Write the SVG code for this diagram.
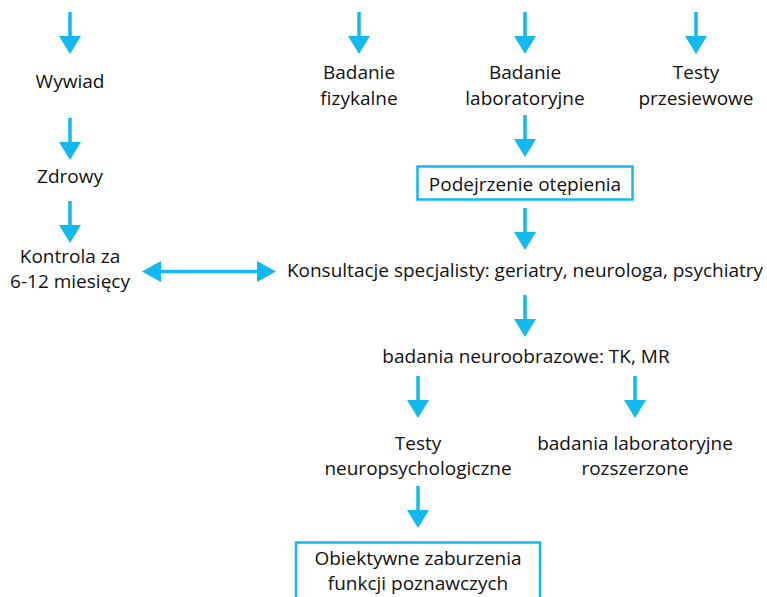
<svg xmlns="http://www.w3.org/2000/svg" width="767" height="597" viewBox="0 0 767 597">
<defs>
<style>
text{font-family:"Open Sans","Liberation Sans",sans-serif;font-size:19px;fill:#111;text-anchor:middle}
.c line{stroke:#12b8ee;stroke-width:3.5}
.c polygon{fill:#12b8ee}
.box{fill:#fff;stroke:#12b8ee;stroke-width:2.5}
</style>
</defs>
<rect width="767" height="597" fill="#fff"/>
<g class="c" id="connectors">
<line x1="70" y1="12" x2="70" y2="37"/><polygon points="59,36 81,36 70,54"/>
<line x1="70" y1="118" x2="70" y2="143"/><polygon points="59,142 81,142 70,160"/>
<line x1="70" y1="201" x2="70" y2="226"/><polygon points="59,225 81,225 70,243"/>
<line x1="359" y1="12" x2="359" y2="37"/><polygon points="348,36 370,36 359,54"/>
<line x1="525" y1="12" x2="525" y2="37"/><polygon points="514,36 536,36 525,54"/>
<line x1="696" y1="12" x2="696" y2="37"/><polygon points="685,36 707,36 696,54"/>
<line x1="525" y1="115" x2="525" y2="140"/><polygon points="514,139 536,139 525,157"/>
<line x1="525" y1="208" x2="525" y2="233"/><polygon points="514,232 536,232 525,250"/>
<line x1="525" y1="295" x2="525" y2="320"/><polygon points="514,319 536,319 525,337"/>
<line x1="418" y1="376" x2="418" y2="401"/><polygon points="407,400 429,400 418,418"/>
<line x1="635" y1="376" x2="635" y2="401"/><polygon points="624,400 646,400 635,418"/>
<line x1="418" y1="486" x2="418" y2="511"/><polygon points="407,510 429,510 418,528"/>
<line x1="160" y1="271.5" x2="258" y2="271.5"/><polygon points="142,271.5 161,261 161,282"/><polygon points="276,271.5 257,261 257,282"/>
</g>
<g id="wywiad"><text x="70" y="88">Wywiad</text></g>
<g id="zdrowy"><text x="70" y="183">Zdrowy</text></g>
<g id="kontrola"><text x="70" y="263">Kontrola za</text><text x="70" y="288">6-12 miesięcy</text></g>
<g id="fizykalne"><text x="359" y="79">Badanie</text><text x="359" y="105">fizykalne</text></g>
<g id="laboratoryjne"><text x="525" y="79">Badanie</text><text x="525" y="105">laboratoryjne</text></g>
<g id="przesiewowe"><text x="696" y="79">Testy</text><text x="696" y="105">przesiewowe</text></g>
<g id="podejrzenie"><rect class="box" x="417.5" y="166.5" width="215" height="33"/><text x="525" y="191">Podejrzenie otępienia</text></g>
<g id="konsultacje"><text x="525" y="277">Konsultacje specjalisty: geriatry, neurologa, psychiatry</text></g>
<g id="neuroobrazowe"><text x="526" y="363">badania neuroobrazowe: TK, MR</text></g>
<g id="neuropsych"><text x="418" y="450">Testy</text><text x="418" y="475">neuropsychologiczne</text></g>
<g id="rozszerzone"><text x="635" y="450">badania laboratoryjne</text><text x="635" y="475">rozszerzone</text></g>
<g id="obiektywne"><rect class="box" x="296" y="542.5" width="244" height="70"/><text x="418" y="565">Obiektywne zaburzenia</text><text x="418" y="590">funkcji poznawczych</text></g>
</svg>
